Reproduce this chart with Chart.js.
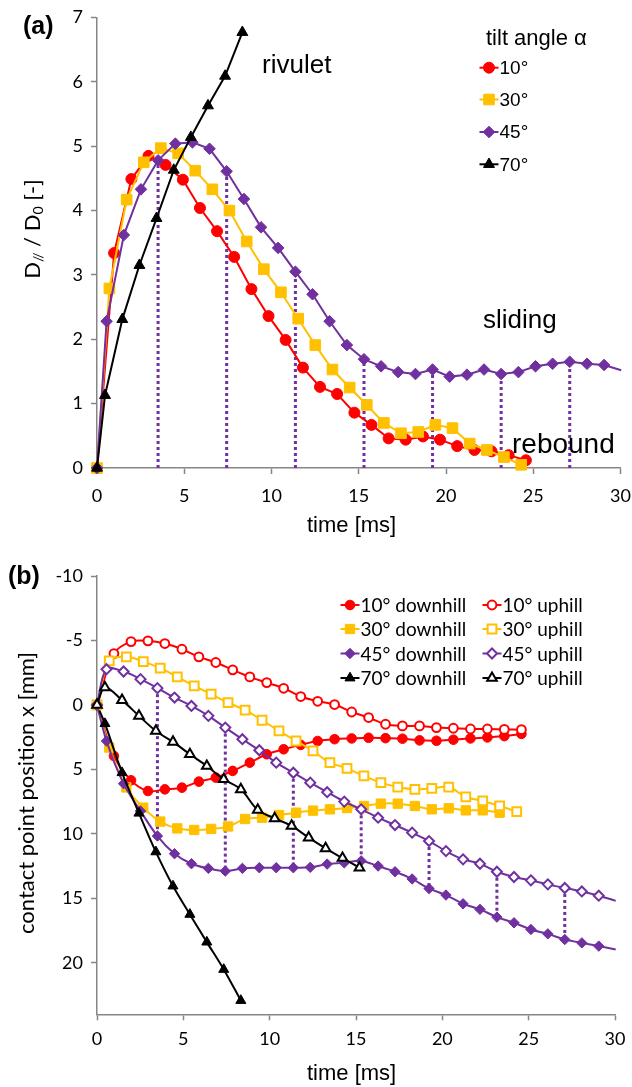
<!DOCTYPE html>
<html>
<head>
<meta charset="utf-8">
<script src="https://cdn.jsdelivr.net/npm/chart.js@4"></script>
<style>
  html, body { margin: 0; padding: 0; background: #fff; }
  #wrapA { position: absolute; left: 0; top: 0; width: 632px; height: 545px; }
  #wrapB { position: absolute; left: 0; top: 545px; width: 632px; height: 542px; }
</style>
</head>
<body>
<div id="wrapA"><canvas id="chartA" width="632" height="545"></canvas></div>
<div id="wrapB"><canvas id="chartB" width="632" height="542"></canvas></div>
<script>
// time stamps [ms] of the frames, per tilt angle
const time10 = [0, 0.98, 1.97, 2.95, 3.93, 4.92, 5.9, 6.88, 7.86, 8.85, 9.83, 10.81, 11.8, 12.78, 13.76, 14.75, 15.73, 16.71, 17.69, 18.68, 19.66, 20.64, 21.63, 22.61, 23.59, 24.58];
const time30 = [0, 0.71, 1.7, 2.68, 3.66, 4.65, 5.63, 6.61, 7.59, 8.58, 9.56, 10.54, 11.53, 12.51, 13.49, 14.48, 15.46, 16.44, 17.42, 18.41, 19.39, 20.37, 21.36, 22.34, 23.32, 24.31];
const time45 = [0, 0.55, 1.54, 2.52, 3.5, 4.49, 5.47, 6.45, 7.43, 8.42, 9.4, 10.38, 11.37, 12.35, 13.33, 14.32, 15.3, 16.28, 17.26, 18.25, 19.23, 20.21, 21.2, 22.18, 23.16, 24.15, 25.13, 26.11, 27.09, 28.08, 29.06, 30.04];
const time70 = [0, 0.46, 1.45, 2.43, 3.41, 4.4, 5.38, 6.36, 7.34, 8.33, 9.31, 10.29, 11.27, 12.26, 13.24, 14.22, 15.2];

// (a) D// / D0 [-]
const d10 = [0, 3.34, 4.49, 4.85, 4.71, 4.48, 4.04, 3.68, 3.28, 2.78, 2.36, 1.99, 1.56, 1.26, 1.15, 0.86, 0.67, 0.46, 0.44, 0.49, 0.44, 0.34, 0.28, 0.26, 0.2, 0.12];
const d30 = [0, 2.79, 4.17, 4.75, 4.97, 4.89, 4.62, 4.33, 4.0, 3.52, 3.09, 2.73, 2.32, 1.91, 1.53, 1.25, 0.98, 0.7, 0.54, 0.56, 0.67, 0.62, 0.38, 0.28, 0.17, 0.05];
const d45 = [0, 2.28, 3.62, 4.33, 4.78, 5.04, 5.06, 4.96, 4.61, 4.18, 3.74, 3.42, 3.05, 2.7, 2.28, 1.91, 1.69, 1.58, 1.49, 1.46, 1.53, 1.42, 1.45, 1.53, 1.46, 1.49, 1.58, 1.62, 1.65, 1.62, 1.6, 1.52];
const d70 = [0, 1.13, 2.31, 3.15, 3.88, 4.63, 5.14, 5.63, 6.09, 6.77];

// (b) contact point position x [mm]
const x10down = [0, 3.96, 5.85, 6.68, 6.55, 6.42, 5.95, 5.64, 5.12, 4.48, 3.83, 3.44, 3.1, 2.8, 2.66, 2.6, 2.55, 2.58, 2.62, 2.75, 2.78, 2.7, 2.6, 2.52, 2.42, 2.25];
const x10up = [0, -3.98, -4.91, -4.97, -4.76, -4.32, -3.73, -3.29, -2.72, -2.17, -1.73, -1.29, -0.65, -0.28, -0.03, 0.55, 0.98, 1.5, 1.63, 1.63, 1.76, 1.81, 1.87, 1.87, 1.9, 1.92];
const x30down = [0, 3.31, 6.4, 7.97, 9.05, 9.58, 9.7, 9.62, 9.43, 8.85, 8.75, 8.54, 8.36, 8.2, 8.1, 8.0, 7.84, 7.66, 7.66, 7.84, 8.1, 8.02, 8.18, 8.18, 8.36];
const x30up = [0, -3.42, -3.73, -3.36, -2.85, -2.17, -1.48, -0.83, -0.18, 0.41, 1.19, 2.02, 2.8, 3.57, 4.48, 4.92, 5.51, 6.03, 6.37, 6.55, 6.47, 6.37, 7.14, 7.45, 7.84, 8.28];
const x45down = [0, 2.8, 6.11, 8.23, 10.17, 11.54, 12.32, 12.68, 12.89, 12.68, 12.63, 12.63, 12.63, 12.6, 12.35, 12.25, 12.1, 12.5, 12.94, 13.5, 14.25, 14.75, 15.43, 15.86, 16.46, 16.9, 17.42, 17.76, 18.2, 18.46, 18.71, 18.97];
const x45up = [0, -2.77, -2.59, -2.0, -1.3, -0.57, 0.08, 0.85, 1.76, 2.66, 3.52, 4.48, 5.26, 6.03, 6.77, 7.5, 8.1, 8.75, 9.32, 9.91, 10.56, 11.34, 11.98, 12.32, 12.94, 13.35, 13.61, 13.92, 14.2, 14.47, 14.8, 15.2];
const x70down = [0, 1.45, 5.26, 8.4, 11.4, 14.05, 16.25, 18.4, 20.52, 22.93];
const x70up = [0, -1.35, -0.37, 0.85, 2.02, 2.87, 3.83, 4.74, 5.77, 6.55, 8.15, 8.8, 9.39, 10.3, 11.13, 11.88, 12.63];

// 45° frames marked with dotted lines
const markIdx = [4, 8, 12, 16, 20, 24, 28];

const RED = '#FF0000', ORANGE = '#FFC000', PURPLE = '#7030A0', BLACK = '#000000';
const AXIS = '#868686';

function makeSet(label, times, vals, color, style, r, open, order, tension) {
  return {
    label: label,
    data: vals.map((v, i) => ({ x: times[i], y: v })),
    borderColor: color,
    backgroundColor: color,
    borderWidth: 2,
    pointStyle: style,
    pointRadius: c => (c.raw && c.raw.x > 30 ? 0 : r),
    pointHoverRadius: r,
    pointBackgroundColor: open ? '#ffffff' : color,
    pointBorderColor: color,
    pointBorderWidth: open ? 2 : 1,
    tension: tension,
    order: order,
    clip: false,
    markerR: r,
    open: open
  };
}

function dropLine(x0, y0, x1, y1) {
  return {
    label: '',
    data: [{ x: x0, y: y0 }, { x: x1, y: y1 }],
    borderColor: PURPLE,
    borderWidth: 3,
    borderDash: [3, 3],
    pointRadius: 0,
    order: 20,
    clip: false,
    isDrop: true
  };
}

function drawMarker(ctx, ds, x, y) {
  ctx.save();
  ctx.strokeStyle = ds.borderColor;
  ctx.lineWidth = 2;
  ctx.beginPath();
  ctx.moveTo(x - 9.5, y);
  ctx.lineTo(x + 9.5, y);
  ctx.stroke();
  ctx.fillStyle = ds.pointBackgroundColor;
  ctx.lineWidth = ds.pointBorderWidth;
  Chart.helpers.drawPoint(ctx, {
    pointStyle: ds.pointStyle, radius: ds.markerR, rotation: 0, borderWidth: ds.pointBorderWidth
  }, x, y);
  ctx.restore();
}

function rotatedTitle(ctx, parts, cx, cy) {
  ctx.save();
  ctx.translate(cx, cy);
  ctx.rotate(-Math.PI / 2);
  ctx.textBaseline = 'middle';
  ctx.textAlign = 'left';
  let total = 0;
  parts.forEach(p => { ctx.font = p.font; p.w = ctx.measureText(p.t).width; total += p.w; });
  let x = -total / 2;
  parts.forEach(p => { ctx.font = p.font; ctx.fillText(p.t, x, p.dy || 0); x += p.w; });
  ctx.restore();
}

// the layout padding alone decides the gap round the plot area
function noOverflow(s) {
  s.paddingLeft = 0; s.paddingRight = 0; s.paddingTop = 0; s.paddingBottom = 0;
}

function axisOpts(min, max, step, extra, tickPad) {
  return Object.assign({
    type: 'linear',
    min: min,
    max: max,
    ticks: { stepSize: step, color: '#000', font: { family: 'Lato', size: 18 }, padding: tickPad || 8, includeBounds: false },
    grid: { drawOnChartArea: false, drawTicks: true, tickLength: 6, tickColor: AXIS, tickWidth: 1.5 },
    border: { display: true, color: AXIS, width: 1.5 }
  }, extra);
}

const notesA = {
  id: 'notesA',
  afterDraw(chart) {
    const c = chart.ctx;
    c.save();
    c.fillStyle = '#000';
    c.textAlign = 'left';
    c.textBaseline = 'alphabetic';
    c.font = 'bold 25px "Liberation Sans"';
    c.fillText('(a)', 23, 34);
    c.font = '26px "Liberation Sans"';
    c.fillText('rivulet', 262, 73);
    c.fillText('sliding', 483, 328);
    c.font = '28px "Liberation Sans"';
    c.fillText('rebound', 512, 453);
    c.font = '22px "Liberation Sans"';
    c.fillText('tilt angle α', 486, 44.5);
    c.fillText('time [ms]', 307, 532);
    // legend
    const rows = [67.7, 99.5, 132, 164.3];
    const sets = chart.data.datasets.filter(d => !d.isDrop);
    c.font = '19px "Liberation Sans"';
    c.textBaseline = 'middle';
    sets.forEach((ds, i) => {
      drawMarker(c, ds, 489, rows[i]);
      c.fillStyle = '#000';
      c.fillText(ds.label, 499.5, rows[i] + 1);
    });
    rotatedTitle(c, [
      { t: 'D', font: '22px Lato' },
      { t: '//', font: '14px Lato', dy: 5 },
      { t: ' / D', font: '22px Lato' },
      { t: '0', font: '14px Lato', dy: 5 },
      { t: ' [-]', font: '22px Lato' }
    ], 33, 229);
    c.restore();
  }
};

const notesB = {
  id: 'notesB',
  afterDraw(chart) {
    const c = chart.ctx;
    c.save();
    c.fillStyle = '#000';
    c.textAlign = 'left';
    c.textBaseline = 'alphabetic';
    c.font = 'bold 25px "Liberation Sans"';
    c.fillText('(b)', 8, 39);
    c.font = '22px "Liberation Sans"';
    c.fillText('time [ms]', 307, 535);
    const rows = [60, 84, 108.5, 133];
    const sets = chart.data.datasets.filter(d => !d.isDrop);
    c.font = '19px Lato';
    c.textBaseline = 'middle';
    sets.forEach((ds, i) => {
      const col = i < 4 ? 0 : 1;
      const row = i % 4;
      const mx = col === 0 ? 350 : 492;
      drawMarker(c, ds, mx, rows[row]);
      c.fillStyle = '#000';
      c.fillText(ds.label, mx + 10.5, rows[row] + 1);
    });
    rotatedTitle(c, [{ t: 'contact point position x [mm]', font: '22px Lato' }], 27, 248);
    c.restore();
  }
};

function build() {
  const setsA = [
    makeSet('70°', time70, d70, BLACK, 'triangle', 6.3, false, 1, 0),
    makeSet('45°', time45, d45, PURPLE, 'rectRot', 5.8, false, 2, 0),
    makeSet('30°', time30, d30, ORANGE, 'rect', 7.5, false, 3, 0),
    makeSet('10°', time10, d10, RED, 'circle', 5.5, false, 4, 0)
  ].reverse();
  markIdx.forEach(k => setsA.push(dropLine(time45[k], 0, time45[k], d45[k])));

  new Chart(document.getElementById('chartA'), {
    type: 'line',
    data: { datasets: setsA },
    options: {
      responsive: false,
      animation: false,
      events: [],
      layout: { padding: { left: 0, right: 11.5, top: 17.5, bottom: 0 } },
      plugins: { legend: { display: false }, tooltip: { enabled: false } },
      scales: {
        x: axisOpts(0, 30, 5, { afterFit(s) { noOverflow(s); s.height = 77; } }, 11),
        y: axisOpts(0, 7, 1, { afterFit(s) { noOverflow(s); s.width = 97; } })
      }
    },
    plugins: [notesA]
  });

  const T = 0.35;
  const setsB = [
    makeSet('10° downhill', time10, x10down, RED, 'circle', 4.8, false, 8, T),
    makeSet('30° downhill', time30, x30down, ORANGE, 'rect', 6.6, false, 7, T),
    makeSet('45° downhill', time45, x45down, PURPLE, 'rectRot', 5.2, false, 6, T),
    makeSet('70° downhill', time70, x70down, BLACK, 'triangle', 5.8, false, 5, T),
    makeSet('10° uphill', time10, x10up, RED, 'circle', 4.4, true, 4, T),
    makeSet('30° uphill', time30, x30up, ORANGE, 'rect', 6.2, true, 3, T),
    makeSet('45° uphill', time45, x45up, PURPLE, 'rectRot', 5.0, true, 2, T),
    makeSet('70° uphill', time70, x70up, BLACK, 'triangle', 5.6, true, 1, T)
  ];
  markIdx.forEach(k => setsB.push(dropLine(time45[k], x45up[k], time45[k], x45down[k])));

  new Chart(document.getElementById('chartB'), {
    type: 'line',
    data: { datasets: setsB },
    options: {
      responsive: false,
      animation: false,
      events: [],
      layout: { padding: { left: 0, right: 17, top: 31, bottom: 0 } },
      plugins: { legend: { display: false }, tooltip: { enabled: false } },
      scales: {
        x: axisOpts(0, 30, 5, { afterFit(s) { noOverflow(s); s.height = 72.7; } }),
        y: axisOpts(-10, 24, 5, { reverse: true, afterFit(s) { noOverflow(s); s.width = 97; } })
      }
    },
    plugins: [notesB]
  });
}

const fontsToLoad = ['18px Lato', '19px Lato', 'bold 25px "Liberation Sans"', '22px "Liberation Sans"'];
Promise.all(fontsToLoad.map(f => document.fonts.load(f))).then(build, build);
</script>
</body>
</html>
